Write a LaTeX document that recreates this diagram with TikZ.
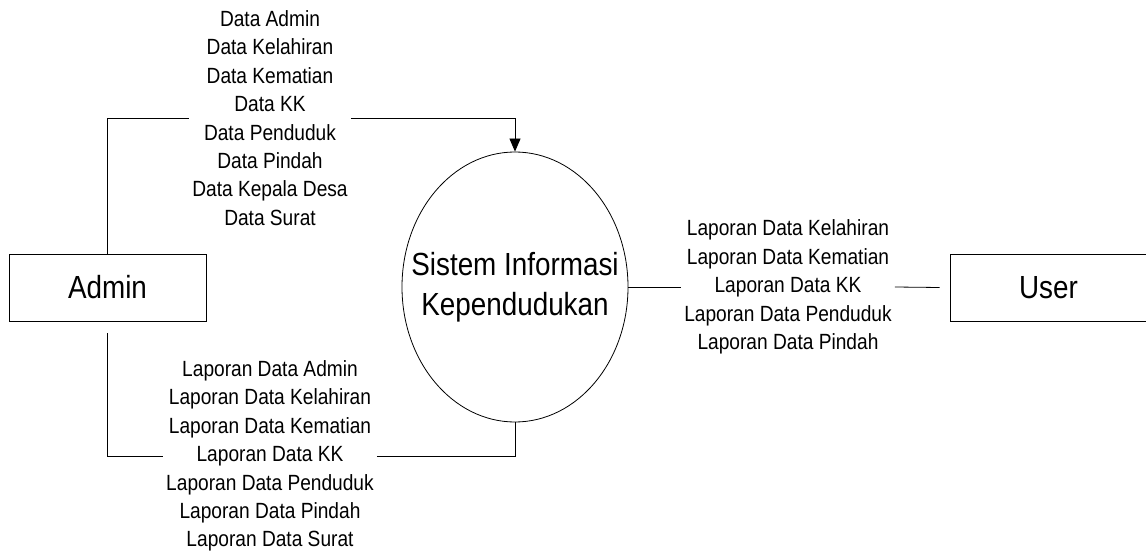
\documentclass[tikz,border=0pt]{standalone}
\usepackage{fontspec}
\setmainfont[FakeStretch=0.87]{Liberation Sans}
\usepackage{tikz}
\usetikzlibrary{arrows.meta,shapes.geometric}
\tikzset{entity/.style={draw,line width=.8pt,minimum width=197pt,minimum height=67pt,inner sep=0pt,font=\fontsize{32}{40}\selectfont},process/.style={ellipse,draw,line width=.8pt,minimum width=226pt,minimum height=270pt,inner sep=0pt,label={[align=center,font=\fontsize{32}{40}\selectfont]center:#1}},lbl/.style={fill=white,align=center,inner xsep=3pt,inner ysep=0pt,font=\fontsize{22}{28.4}\selectfont},flow/.style={line width=.8pt,draw=black}}

\begin{document}
\begin{tikzpicture}[x=1pt,y=1pt]
      \useasboundingbox(0,0)rectangle(1146,558);
      \node[entity](admin)at(107.5,270.5){Admin};
      \node[entity](user)at(1048.5,270.5){User};
      \node[process={Sistem Informasi\\Kependudukan}](sik)at(515,271){};
      \node[lbl](inAdmin)at(270,440){Data Admin\\Data Kelahiran\\Data Kematian\\Data KK\\Data Penduduk\\Data Pindah\\Data Kepala Desa\\Data Surat};
      \node[lbl](outAdmin)at(270,102){Laporan Data Admin\\Laporan Data Kelahiran\\Laporan Data Kematian\\Laporan Data KK\\Laporan Data Penduduk\\Laporan Data Pindah\\Laporan Data Surat};
      \node[lbl](outUser)at(788,271){Laporan Data Kelahiran\\Laporan Data Kematian\\Laporan Data KK\\Laporan Data Penduduk\\Laporan Data Pindah};
      \draw[flow](admin.north)|-(inAdmin.west);\draw[flow,-{Triangle[width=11pt,length=13pt]}](inAdmin.east)-|(sik.north);
      \draw[flow]([yshift=-12pt]admin.south)|-(outAdmin.west);\draw[flow](outAdmin.east)-|(sik.south);
      \draw[flow](sik.east)--(outUser.west);\draw[flow](outUser.east)--([xshift=-10pt]user.west);
    \end{tikzpicture}
\end{document}
